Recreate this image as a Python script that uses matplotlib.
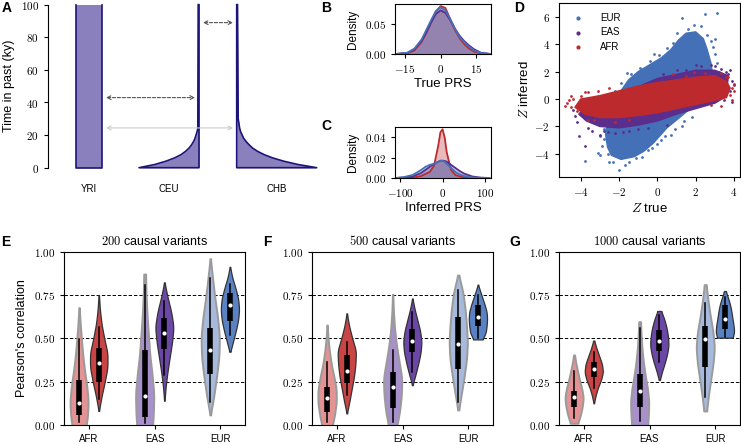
import numpy as np
import matplotlib
matplotlib.use('Agg')
import matplotlib.pyplot as plt
from matplotlib.ticker import FuncFormatter

plt.rcParams['font.family'] = ['Liberation Sans', 'DejaVu Sans']
plt.rcParams['mathtext.fontset'] = 'cm'
plt.rcParams['axes.linewidth'] = 0.8
plt.rcParams['xtick.major.size'] = 3
plt.rcParams['ytick.major.size'] = 3
plt.rcParams['xtick.major.width'] = 0.8
plt.rcParams['ytick.major.width'] = 0.8

# ---------------- DATA ----------------
# A: demography (sizes in drawing units, time in ky)
yri_left = 28.3
yri_width = 25.4
ceu_right = 151.0
ceu_t = [0, 2, 4, 6, 8, 10, 12, 14, 16, 18, 20, 22, 24, 100]
ceu_w = [60, 44, 33, 24.5, 18, 13.5, 10, 7.5, 5.5, 4, 3, 2, 1.2, 0.8]
chb_left = 188.7
chb_t = [0, 2, 4, 6, 8, 10, 12, 14, 16, 18, 20, 22, 24, 30, 100]
chb_w = [80, 61, 47, 36, 27.5, 21, 16, 12.5, 9.5, 7, 5.5, 4, 3, 1.5, 0.8]
deme_names = ['YRI', 'CEU', 'CHB']
deme_centers = [41, 121, 229]
mig_time = [43, 24.4, 89]
mig_from = [58, 58, 155]
mig_to = [147, 185, 185]
mig_color = ['#555555', '#cccccc', '#555555']

# B: true PRS densities
true_x = [-19, -14, -11, -8, -6, -4, -2, 0, 2, 4, 6, 8, 10, 12, 14, 17, 21]
true_afr = [0, 0.001, 0.006, 0.02, 0.035, 0.052, 0.07, 0.079, 0.076, 0.058, 0.04, 0.026, 0.016, 0.009, 0.004, 0.001, 0]
true_eas = [0, 0.002, 0.008, 0.022, 0.036, 0.052, 0.066, 0.072, 0.068, 0.056, 0.042, 0.03, 0.021, 0.014, 0.008, 0.002, 0]
true_eur = [0, 0.002, 0.009, 0.024, 0.04, 0.056, 0.071, 0.077, 0.072, 0.058, 0.042, 0.028, 0.019, 0.012, 0.006, 0.0015, 0]

# C: inferred PRS densities
inf_x = [-110, -90, -70, -50, -40, -30, -20, -10, -5, 0, 5, 10, 20, 30, 40, 50, 70, 90, 110]
inf_afr = [0, 0, 0.0003, 0.002, 0.004, 0.006, 0.012, 0.032, 0.045, 0.048, 0.040, 0.025, 0.008, 0.003, 0.0015, 0.0008, 0.0002, 0, 0]
inf_eas = [0, 0.0005, 0.0015, 0.005, 0.008, 0.011, 0.014, 0.016, 0.017, 0.017, 0.0168, 0.016, 0.013, 0.010, 0.007, 0.0045, 0.0015, 0.0004, 0]
inf_eur = [0, 0.001, 0.003, 0.008, 0.011, 0.013, 0.014, 0.016, 0.017, 0.017, 0.016, 0.014, 0.010, 0.006, 0.0035, 0.002, 0.0005, 0.0001, 0]

# D: Z scores, dense cores as outlines plus sparse fringe points
eur_core_x = [-1.9, -1.2, -0.7, -0.2, 0.5, 1.2, 1.8, 2.3, 2.7, 2.9, 2.8, 2.6, 2.4, 2.0, 1.5,
              1.1, 0.7, 0.2, -0.4, -1.0, -1.5, -1.9, -2.3, -2.6, -2.7, -2.6, -2.4]
eur_core_y = [-4.4, -4.2, -3.8, -3.2, -2.1, -1.3, -0.6, 0.2, 0.9, 1.6, 2.6, 3.6, 4.4, 4.9, 4.8,
              4.3, 3.6, 3.0, 2.5, 2.0, 1.4, 0.6, -0.5, -1.6, -2.6, -3.5, -4.1]
eur_pts_x = [-2.0, -2.3, -3.8, -3.0, -2.9, 1.3, 2.5, 3.1, 1.6, 2.6, 2.9, 3.1, 0.5, 0.1, -0.4,
             -0.9, -1.4, -2.8, -2.8, -2.6, -1.7, -1.1, -0.5, 0.0, 0.4, 0.9, 1.4, -3.1, 2.3, 3.0,
             -1.6, -1.9, -2.2, -0.2, 0.8, 1.0, 1.9, 2.8, 3.0, 3.2, -2.9, -3.0, -2.5, -1.5, -0.8,
             -0.3, 0.2, 0.7, 1.3, 1.8]
eur_pts_y = [-5.2, -4.6, -4.5, -4.1, -3.4, 5.9, 6.2, 6.3, 5.1, 4.7, 3.8, 2.6, 3.7, 3.2, 2.8,
             2.3, 1.8, -2.2, -2.9, -4.0, -4.8, -4.3, -3.7, -3.3, -2.7, -2.2, -1.6, -3.9, 5.3, 4.4,
             1.9, 1.2, 0.6, 3.3, 4.1, 4.8, 5.4, 4.2, 3.3, 2.0, -1.3, -2.7, -4.6, -4.6, -4.2,
             -3.6, -3.0, -2.6, -2.0, -1.3]
eas_core_x = [-4.1, -3.9, -3.0, -2.0, -1.0, 0.0, 1.0, 2.0, 3.0, 3.7, 3.6, 3.0, 2.0, 1.0, 0.0,
              -1.0, -2.0, -3.0, -3.7]
eas_core_y = [-1.1, -0.8, -0.3, 0.3, 0.9, 1.5, 1.8, 2.1, 2.1, 1.7, 0.2, -0.3, -0.7, -1.1, -1.6,
              -1.9, -2.1, -2.0, -1.6]
eas_pts_x = [-4.1, -3.8, -3.4, -3.0, -2.6, -4.3, 3.7, 3.6, 3.3, 2.8, 3.9, 3.8, -0.5, 0.3,
             -1.5, 1.5, 2.3, -2.2, 3.5, 4.0, -4.2, -3.6, -2.8, -1.8, -1.0, 0.5, 1.0, 2.0,
             3.0, 3.8, 3.9, -4.4]
eas_pts_y = [-2.7, -3.4, -2.3, -2.6, -2.4, -1.2, 1.8, 2.0, 2.2, 2.5, 1.3, 0.6, -2.1, 1.8,
             -2.3, 2.1, 2.4, -2.5, -0.1, 1.0, -1.7, -2.1, -2.3, -2.4, -2.2, -1.9, 2.1, 2.5,
             2.4, 2.1, -0.2, -0.8]
afr_core_x = [-4.3, -4.0, -3.0, -2.0, -1.0, 0.0, 1.0, 2.0, 3.0, 3.6, 3.8, 3.6, 3.0, 2.0, 1.0,
              0.0, -1.0, -2.0, -3.0, -3.8]
afr_core_y = [-0.6, 0.0, 0.25, 0.6, 0.95, 1.2, 1.4, 1.6, 1.7, 1.3, 0.8, 0.1, -0.1, -0.4, -0.7,
              -1.0, -1.2, -1.35, -1.35, -1.1]
afr_pts_x = [-4.7, -4.5, -4.4, -4.2, -4.0, 3.9, 3.8, 3.6, 3.3, -3.6, -3.3, 2.8, -4.6, 4.0,
             -2.5, 1.5, 2.5, -1.5, -4.8, -4.5, -3.8, -3.1, 3.7, 4.0, 3.9, 3.3, -3.6, -2.2,
             0.8, 1.9]
afr_pts_y = [-0.3, -0.6, 0.0, -0.9, 0.2, 0.8, 0.3, 1.6, 1.9, 0.5, -1.5, -0.4, -0.1, 0.6,
             0.8, 1.7, 1.9, -1.5, -0.5, 0.2, 0.5, 0.6, 1.6, 1.1, -0.1, -0.5, -1.5, -1.7,
             1.8, 2.0]

# E-G: violins, order AFR/AFR, EAS/EAS, EUR/EUR (light, dark)
n_causal = [200, 500, 1000]
groups = ['AFR', 'EAS', 'EUR']
vio_lo = [[-0.05, 0.081, -0.05, 0.14, 0.058, 0.423],
          [-0.02, 0.067, -0.02, 0.23, 0.087, 0.494],
          [0.01, 0.125, -0.02, 0.26, 0.081, 0.504]]
vio_hi = [[0.677, 0.75, 0.871, 0.823, 0.96, 0.913],
          [0.577, 0.644, 0.754, 0.73, 0.865, 0.81],
          [0.404, 0.487, 0.596, 0.658, 0.81, 0.773]]
vio_w = [[[0.6, 0.9, 1.0, 0.85, 0.6, 0.4, 0.25, 0.12, 0.02],
          [0.02, 0.3, 0.65, 0.95, 0.95, 0.6, 0.3, 0.12, 0.02],
          [0.8, 0.95, 1.0, 0.8, 0.55, 0.4, 0.25, 0.15, 0.1],
          [0.02, 0.15, 0.35, 0.6, 0.85, 1.0, 0.75, 0.35, 0.02],
          [0.02, 0.4, 0.7, 0.95, 1.0, 0.8, 0.5, 0.25, 0.02],
          [0.05, 0.35, 0.65, 0.9, 1.0, 0.9, 0.6, 0.25, 0.02]],
         [[0.5, 0.8, 1.0, 1.0, 0.75, 0.45, 0.25, 0.1, 0.02],
          [0.02, 0.3, 0.55, 0.8, 0.95, 1.0, 0.6, 0.25, 0.02],
          [0.4, 0.75, 0.95, 1.0, 0.7, 0.4, 0.2, 0.08, 0.02],
          [0.02, 0.35, 0.65, 0.9, 1.0, 0.85, 0.55, 0.25, 0.02],
          [0.05, 0.35, 0.65, 0.9, 1.0, 0.9, 0.75, 0.5, 0.05],
          [0.5, 0.85, 0.95, 1.0, 0.95, 0.75, 0.5, 0.25, 0.02]],
         [[0.4, 0.7, 0.9, 1.0, 0.85, 0.6, 0.4, 0.2, 0.05],
          [0.02, 0.2, 0.45, 0.8, 1.0, 0.9, 0.6, 0.3, 0.05],
          [0.85, 0.95, 1.0, 0.85, 0.6, 0.4, 0.25, 0.15, 0.1],
          [0.05, 0.3, 0.6, 0.85, 1.0, 0.95, 0.8, 0.55, 0.2],
          [0.15, 0.35, 0.6, 0.85, 1.0, 0.85, 0.55, 0.3, 0.1],
          [0.85, 1.0, 0.95, 0.85, 0.75, 0.65, 0.5, 0.3, 0.1]]]
box_wlo = [[0.02, 0.15, 0.01, 0.288, 0.13, 0.52],
           [0.02, 0.173, 0.02, 0.304, 0.13, 0.5],
           [0.04, 0.212, 0.023, 0.365, 0.163, 0.51]]
box_q1 = [[0.058, 0.246, 0.048, 0.438, 0.294, 0.602],
          [0.077, 0.24, 0.096, 0.419, 0.321, 0.571],
          [0.102, 0.279, 0.106, 0.429, 0.337, 0.554]]
box_med = [[0.129, 0.36, 0.169, 0.533, 0.433, 0.692],
           [0.158, 0.313, 0.217, 0.487, 0.467, 0.625],
           [0.16, 0.321, 0.198, 0.485, 0.494, 0.61]]
box_q3 = [[0.26, 0.442, 0.433, 0.615, 0.56, 0.76],
          [0.221, 0.404, 0.308, 0.554, 0.621, 0.692],
          [0.198, 0.362, 0.294, 0.548, 0.571, 0.692]]
box_whi = [[0.494, 0.563, 0.808, 0.715, 0.85, 0.813],
           [0.365, 0.48, 0.433, 0.65, 0.779, 0.75],
           [0.31, 0.423, 0.56, 0.635, 0.702, 0.74]]

c_afr, c_eas, c_eur = '#bd2a2e', '#5b2d8c', '#4470b8'
vio_fill = ['#e39393', '#c94545', '#a891cb', '#6c48a6', '#a8badc', '#5a82c3']
vio_edge = ['#9a9a9a', '#333333', '#9a9a9a', '#333333', '#9a9a9a', '#333333']
vio_lw = [1.4, 0.9, 1.4, 0.9, 1.4, 0.9]
deme_fill = '#8a80bd'
deme_edge = '#1c1478'


def cm(fmt):
    def f(v, pos):
        s = fmt % abs(v)
        if v < -1e-9:
            return r'$-\mathrm{%s}$' % s
        return r'$\mathrm{%s}$' % s
    return FuncFormatter(f)


def smooth(a, k=21):
    pad = k // 2
    b = np.concatenate([np.full(pad, a[0]), a, np.full(pad, a[-1])])
    return np.convolve(b, np.ones(k) / k, mode='valid')


fig = plt.figure(figsize=(7.41, 4.44), dpi=100)
W, H = 741.0, 444.0


def add_ax(l, t, r, b):
    return fig.add_axes([l / W, 1 - b / H, (r - l) / W, (b - t) / H])


tick_fs = 8
lab_fs = 8.5

# ---------------- A ----------------
axA = add_ax(48, 4.7, 330, 167.7)
axA.fill_betweenx([0, 100], yri_left, yri_left + yri_width, color=deme_fill, lw=0)
axA.plot([yri_left, yri_left, yri_left + yri_width, yri_left + yri_width],
         [100, 0, 0, 100], color=deme_edge, lw=1.2, clip_on=False)
ceu_l = [ceu_right - w for w in ceu_w]
axA.fill_betweenx(ceu_t, ceu_l, ceu_right, color=deme_fill, lw=0)
axA.plot(ceu_l[::-1] + [ceu_right, ceu_right], ceu_t[::-1] + [0, 100],
         color=deme_edge, lw=1.2, clip_on=False)
chb_r = [chb_left + w for w in chb_w]
axA.fill_betweenx(chb_t, chb_left, chb_r, color=deme_fill, lw=0)
axA.plot(chb_r[::-1] + [chb_left, chb_left], chb_t[::-1] + [0, 100],
         color=deme_edge, lw=1.2, clip_on=False)
for t, a, b, c in zip(mig_time, mig_from, mig_to, mig_color):
    ls = '-' if c == '#cccccc' else (0, (3, 1.5))
    axA.annotate('', xy=(b, t), xytext=(a, t),
                 arrowprops=dict(arrowstyle='<->', color=c, lw=0.8,
                                 linestyle=ls, shrinkA=0, shrinkB=0,
                                 mutation_scale=7))
axA.set_xlim(0, 282)
axA.set_ylim(0, 100)
axA.set_xticks(deme_centers)
axA.set_xticklabels(deme_names, fontsize=7)
axA.tick_params(axis='x', length=0, pad=12)
axA.set_yticks([0, 20, 40, 60, 80, 100])
axA.yaxis.set_major_formatter(cm('%d'))
axA.tick_params(axis='y', labelsize=tick_fs)
for s in ['top', 'right', 'bottom']:
    axA.spines[s].set_visible(False)
axA.set_ylabel('Time in past (ky)', fontsize=lab_fs + 0.5, labelpad=4)

# ---------------- B / C ----------------
axB = add_ax(395, 4, 491, 54)
axC = add_ax(395, 127, 491, 178)
for ax, xs, ys, xl, yl, xt, yt in [
        (axB, true_x, [true_afr, true_eas, true_eur], (-19.2, 21.2), (0, 0.0825),
         [-15, 0, 15], [0, 0.05]),
        (axC, inf_x, [inf_afr, inf_eas, inf_eur], (-111.8, 114), (0, 0.0502),
         [-100, 0, 100], [0, 0.02, 0.04])]:
    for y, c in zip(ys, [c_afr, c_eas, c_eur]):
        ax.fill_between(xs, y, color=c, alpha=0.32, lw=0)
    for y, c in zip(ys, [c_afr, c_eas, c_eur]):
        ax.plot(xs, y, color=c, lw=1.3)
    ax.set_xlim(*xl)
    ax.set_ylim(*yl)
    ax.set_xticks(xt)
    ax.set_yticks(yt)
    ax.xaxis.set_major_formatter(cm('%d'))
    ax.yaxis.set_major_formatter(cm('%.2f'))
    ax.tick_params(labelsize=tick_fs)
    ax.set_ylabel('Density', fontsize=lab_fs, labelpad=4)
axB.set_xlabel('True PRS', fontsize=lab_fs + 1, labelpad=2)
axC.set_xlabel('Inferred PRS', fontsize=lab_fs + 1, labelpad=2)

# ---------------- D ----------------
axD = add_ax(559, 3.3, 740, 176.7)
for cx, cy, px, py, c, lab in [
        (eur_core_x, eur_core_y, eur_pts_x, eur_pts_y, c_eur, 'EUR'),
        (eas_core_x, eas_core_y, eas_pts_x, eas_pts_y, c_eas, 'EAS'),
        (afr_core_x, afr_core_y, afr_pts_x, afr_pts_y, c_afr, 'AFR')]:
    axD.fill(cx, cy, color=c, lw=1.0, ec=c)
    axD.scatter(px, py, s=4, color=c, lw=0, label=lab)
axD.set_xlim(-5.13, 4.31)
axD.set_ylim(-5.66, 6.98)
axD.set_xticks([-4, -2, 0, 2, 4])
axD.set_yticks([-4, -2, 0, 2, 4, 6])
axD.xaxis.set_major_formatter(cm('%d'))
axD.yaxis.set_major_formatter(cm('%d'))
axD.tick_params(labelsize=tick_fs)
axD.set_xlabel('$Z$ true', fontsize=lab_fs + 1, labelpad=3)
axD.set_ylabel('$Z$ inferred', fontsize=lab_fs + 1, labelpad=2)
axD.legend(loc='upper left', frameon=False, fontsize=7, markerscale=1.5,
           handletextpad=1.2, borderaxespad=0.6, labelspacing=0.45)

# ---------------- E-G ----------------
offs = [-0.15, 0.15]
maxw = 0.14
for k, l in enumerate([64, 312, 559]):
    ax = add_ax(l, 251.7, l + 181, 425)
    for v in (0.25, 0.5, 0.75):
        ax.axhline(v, color='k', lw=0.7, ls=(0, (3.5, 2)), zorder=0)
    for j in range(6):
        pos = j // 2 + offs[j % 2]
        y0 = np.linspace(vio_lo[k][j], vio_hi[k][j], len(vio_w[k][j]))
        yy = np.linspace(vio_lo[k][j], vio_hi[k][j], 240)
        ww = smooth(np.interp(yy, y0, vio_w[k][j])) * maxw
        ax.fill_betweenx(yy, pos - ww, pos + ww, facecolor=vio_fill[j],
                         edgecolor=vio_edge[j], lw=vio_lw[j], zorder=2)
        ax.plot([pos, pos], [box_wlo[k][j], box_whi[k][j]], color='k', lw=1.1, zorder=3)
        ax.plot([pos, pos], [box_q1[k][j], box_q3[k][j]], color='k', lw=4,
                solid_capstyle='butt', zorder=3)
        ax.plot(pos, box_med[k][j], 'o', color='white', ms=3, mec='none', zorder=4)
    ax.set_xlim(-0.38, 2.38)
    ax.set_ylim(0, 1)
    ax.set_xticks([0, 1, 2])
    ax.set_xticklabels(groups, fontsize=7)
    ax.set_yticks([0, 0.25, 0.5, 0.75, 1.0])
    ax.yaxis.set_major_formatter(cm('%.2f'))
    ax.tick_params(axis='y', labelsize=tick_fs)
    ax.set_title(r'$\mathrm{%d}$ causal variants' % n_causal[k], fontsize=9, pad=5)
    if k == 0:
        ax.set_ylabel("Pearson's correlation", fontsize=lab_fs + 0.5, labelpad=4)

# panel letters
for letter, x, y in [('A', 7, 8), ('B', 326, 8), ('C', 326, 126), ('D', 519, 8),
                     ('E', 6, 242), ('F', 267, 242), ('G', 515, 242)]:
    fig.text(x / W, 1 - y / H, letter, fontsize=10, fontweight='bold',
             ha='center', va='center')

fig.savefig('out.png', dpi=100)
